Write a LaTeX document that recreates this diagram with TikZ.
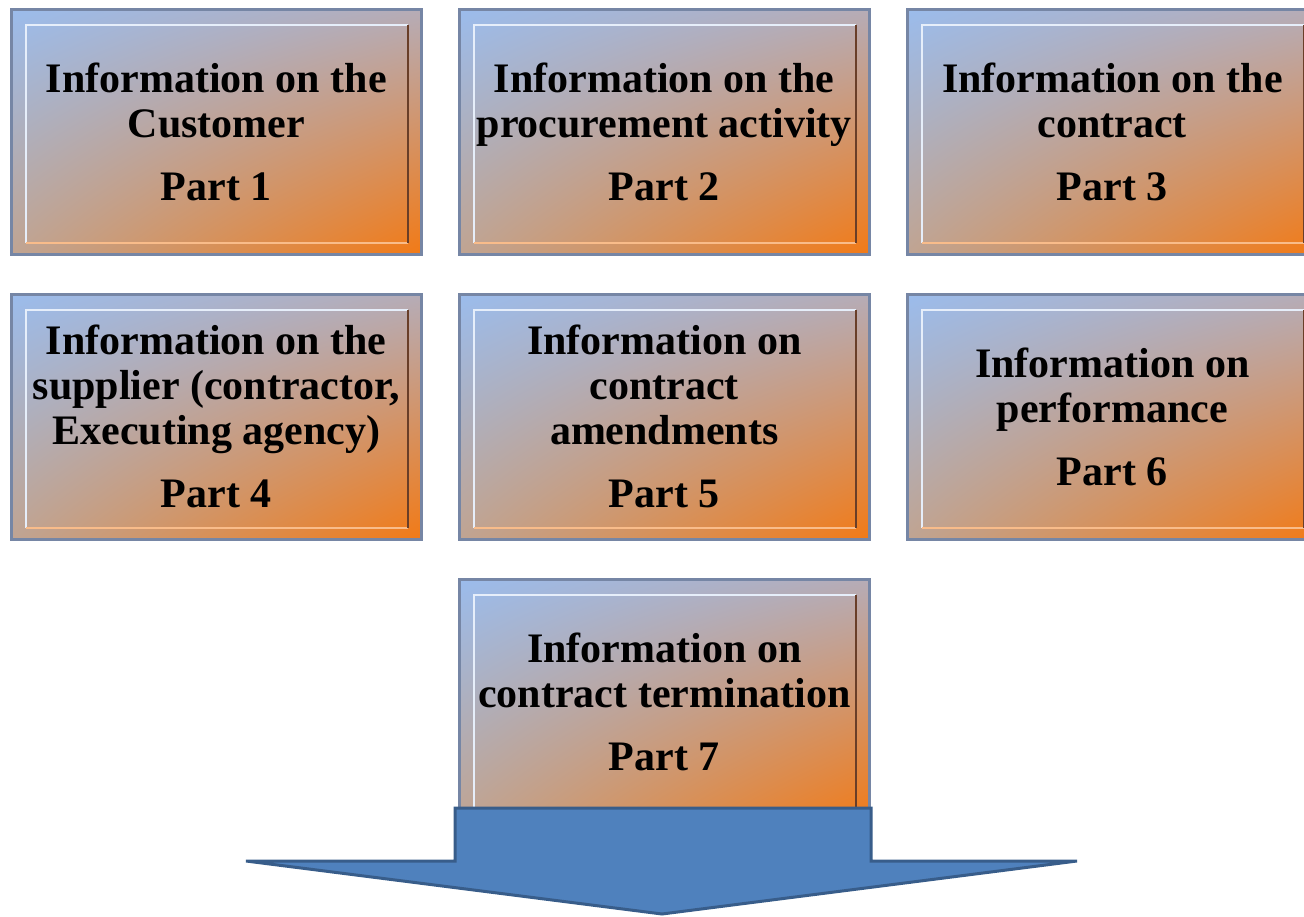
\documentclass[tikz,border=0pt]{standalone}
\usepackage{fontspec}
\setmainfont{Liberation Serif}
\usetikzlibrary{shadings,shadows}
\definecolor{cUL}{RGB}{155,188,236}
\definecolor{cUR}{RGB}{182,172,182}
\definecolor{cLL}{RGB}{192,164,146}
\definecolor{cLR}{RGB}{242,122,22}
\definecolor{frame}{RGB}{118,134,165}
\definecolor{bevdark}{RGB}{105,62,40}
\definecolor{arrowfill}{RGB}{79,129,189}
\definecolor{arrowline}{RGB}{56,93,138}
\begin{document}
\begin{tikzpicture}[x=0.75pt,y=-0.75pt,
  partbox/.style={
    draw=frame, line width=2pt,
    minimum width=307.5pt, minimum height=183.75pt, inner sep=0pt,
    anchor=north west,
    upper left=cUL, upper right=cUR, lower left=cLL, lower right=cLR,
    drop shadow={opacity=0.3, shadow xshift=1pt, shadow yshift=-1.5pt},
    align=center,
    font=\bfseries\fontsize{31.5}{33.75}\selectfont,
    path picture={
      \coordinate (bnw) at ([xshift=11pt,yshift=-11.5pt]path picture bounding box.north west);
      \coordinate (bse) at ([xshift=-10pt,yshift=8.5pt]path picture bounding box.south east);
      \draw[white!75!cUL, line width=1.3pt] (bnw |- bse) -- (bnw) -- (bse |- bnw);
      \draw[white!50!cLR, line width=1.3pt] (bse) -- (bnw |- bse);
      \draw[bevdark, line width=1.6pt] (bse |- bnw) -- (bse);
    }},
  downarrow/.style={fill=arrowfill, draw=arrowline, line width=2.25pt, line join=miter}
]
\useasboundingbox (0,0) rectangle (1304,917);
\clip (0,0) rectangle (1304,917);

% first row
\node[partbox] (p1) at (10,8)  {Information on the\\Customer\\[13.5pt]Part 1};
\node[partbox] (p2) at (458,8) {Information on the\\procurement activity\\[13.5pt]Part 2};
\node[partbox] (p3) at (906,8) {Information on the\\contract\\[13.5pt]Part 3};

% second row
\node[partbox] (p4) at (10,293)  {Information on the\\supplier (contractor,\\Executing agency)\\[13.5pt]Part 4};
\node[partbox] (p5) at (458,293) {Information on\\contract\\amendments\\[13.5pt]Part 5};
\node[partbox] (p6) at (906,293) {Information on\\performance\\[13.5pt]Part 6};

% third row
\node[partbox] (p7) at (458,578) {Information on\\contract termination\\[13.5pt]Part 7};

% block arrow pointing down out of the last part
\draw[downarrow] (455,808) -- (871,808) -- (871,861) -- (1077,861)
  -- (662,914) -- (246,861) -- (455,861) -- cycle;
\end{tikzpicture}
\end{document}
